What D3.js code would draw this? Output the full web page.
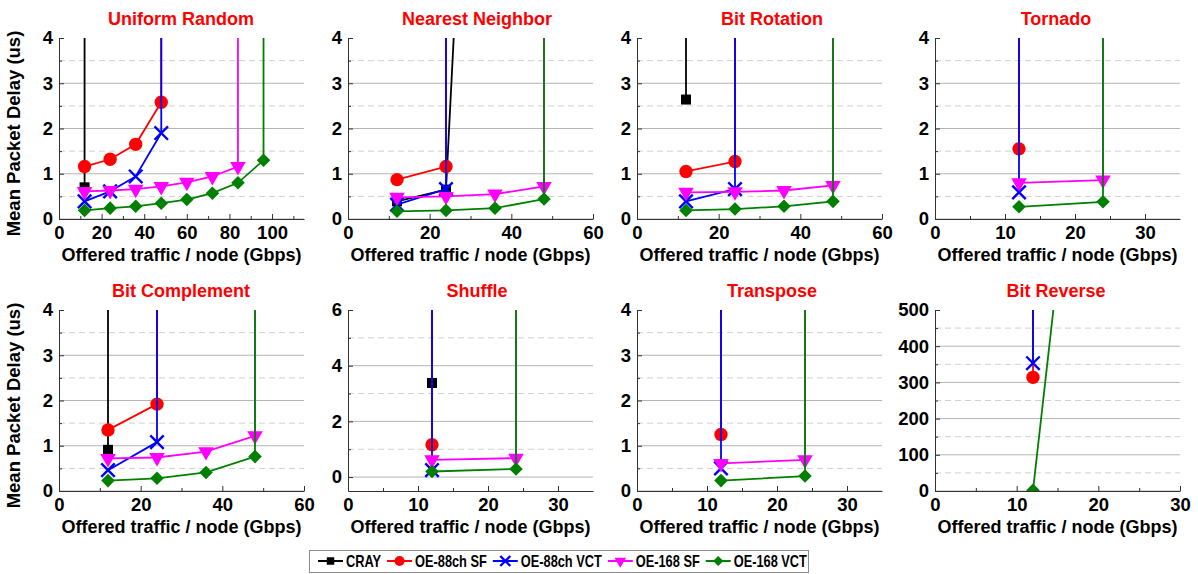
<!DOCTYPE html>
<html>
<head>
<meta charset="utf-8">
<script src="https://cdn.jsdelivr.net/npm/d3@7"></script>
<style>
	body { margin: 0; background: #fff; }
	svg { font-family: "Liberation Sans", Arial, sans-serif; }
</style>
</head>
<body>
<svg id="chart" width="1198" height="574"></svg>
<script>

// series, in drawing order
const seriesNames = ["CRAY", "OE-88ch SF", "OE-88ch VCT", "OE-168 SF", "OE-168 VCT"];
const seriesColors = ["#000000", "#ff0000", "#0000ff", "#ff00ff", "#008000"];

const patternNames = ["Uniform Random", "Nearest Neighbor", "Bit Rotation", "Tornado",
	"Bit Complement", "Shuffle", "Transpose", "Bit Reverse"];

// [offered load Gbps, mean delay us] per series; the last point of a list is the
// saturated run, which shoots off the top of the plot
const uniformRandom = [
	[[12, 0.7], [12, 1000]],
	[[12, 1.16], [24, 1.32], [36, 1.65], [48, 2.58], [48, 1000]],
	[[12, 0.39], [24, 0.61], [36, 0.94], [48, 1.9], [48, 1000]],
	[[12, 0.61], [24, 0.63], [36, 0.66], [48, 0.72], [60, 0.81], [72, 0.94], [84, 1.16], [84, 1000]],
	[[12, 0.19], [24, 0.24], [36, 0.28], [48, 0.35], [60, 0.43], [72, 0.57], [84, 0.8], [96, 1.3], [96, 1000]]
];
const nearestNeighbor = [
	[[12, 0.39], [24, 0.65], [36, 22]],
	[[12, 0.87], [24, 1.16], [24, 1000]],
	[[12, 0.32], [24, 0.66], [24, 1000]],
	[[12, 0.48], [24, 0.5], [36, 0.55], [48, 0.72], [48, 1000]],
	[[12, 0.17], [24, 0.19], [36, 0.24], [48, 0.44], [48, 1000]]
];
const bitRotation = [
	[[12, 2.64], [12, 1000]],
	[[12, 1.05], [24, 1.27], [24, 1000]],
	[[12, 0.39], [24, 0.66], [24, 1000]],
	[[12, 0.59], [24, 0.6], [36, 0.63], [48, 0.74], [48, 1000]],
	[[12, 0.19], [24, 0.22], [36, 0.28], [48, 0.39], [48, 1000]]
];
const tornado = [
	[],
	[[12, 1.55], [12, 1000]],
	[[12, 0.59], [12, 1000]],
	[[12, 0.8], [24, 0.86], [24, 1000]],
	[[12, 0.27], [24, 0.38], [24, 1000]]
];
const bitComplement = [
	[[12, 0.91], [12, 1000]],
	[[12, 1.35], [24, 1.92], [24, 1000]],
	[[12, 0.46], [24, 1.08], [24, 1000]],
	[[12, 0.72], [24, 0.74], [36, 0.87], [48, 1.22], [48, 1000]],
	[[12, 0.23], [24, 0.28], [36, 0.41], [48, 0.76], [48, 1000]]
];
const shuffle = [
	[[12, 3.38], [12, 1000]],
	[[12, 1.16], [12, 1000]],
	[[12, 0.25], [12, 1000]],
	[[12, 0.62], [24, 0.68], [24, 1000]],
	[[12, 0.2], [24, 0.29], [24, 1000]]
];
const transpose = [
	[],
	[[12, 1.25], [12, 1000]],
	[[12, 0.5], [12, 1000]],
	[[12, 0.61], [24, 0.69], [24, 1000]],
	[[12, 0.23], [24, 0.33], [24, 1000]]
];
const bitReverse = [
	[],
	[[12, 314], [12, 100000]],
	[[12, 353], [12, 100000]],
	[],
	[[12, 2], [24, 2400]]
];

// axis ranges per panel
const xMaxes = [115, 60, 60, 35, 60, 35, 35, 30];
const xSteps = [20, 20, 20, 10, 20, 10, 10, 10];
const yDomains = [[0, 4], [0, 4], [0, 4], [0, 4], [0, 4], [-0.5, 6], [0, 4], [0, 500]];
const ySteps = [1, 1, 1, 1, 1, 2, 1, 100];

const patternData = [uniformRandom, nearestNeighbor, bitRotation, tornado,
	bitComplement, shuffle, transpose, bitReverse];

// layout
const colLeft = [59, 348, 637, 935];
const titleCenter = [181, 477, 772, 1056];
const rowTop = [38, 310];
const plotW = 245, plotH = 181;

const svg = d3.select('#chart');

function markerPath(i, scale) {
	const s = scale || 1;
	if (i === 0) return d3.symbol(d3.symbolSquare, 100 * s * s)();
	if (i === 1) return d3.symbol(d3.symbolCircle, 140 * s * s)();
	if (i === 2) return d3.symbol(d3.symbolX, 120 * s * s)();
	if (i === 3) return d3.symbol(d3.symbolTriangle, 105 * s * s)();
	return d3.symbol(d3.symbolSquare, 92 * s * s)();
}
function markerRotate(i) {
	if (i === 3) return " rotate(180)";
	if (i === 4) return " rotate(45)";
	return "";
}
function drawMarker(sel, i, scale) {
	const p = sel.append("path")
		.attr("d", markerPath(i, scale));
	if (i === 2) {
		p.attr("fill", "none").attr("stroke", seriesColors[i]).attr("stroke-width", 2.4);
	} else {
		p.attr("fill", seriesColors[i]);
	}
	return p;
}

patternNames.forEach((name, k) => {
	const col = k % 4, row = Math.floor(k / 4);
	const left = colLeft[col], top = rowTop[row];
	const g = svg.append("g").attr("transform", `translate(${left},${top})`);

	const x = d3.scaleLinear().domain([0, xMaxes[k]]).range([0, plotW]);
	const y = d3.scaleLinear().domain(yDomains[k]).range([plotH, 0]);

	const xs = xSteps[k], ys = ySteps[k];
	const yMin = yDomains[k][0], yMax = yDomains[k][1];
	const xMajor = d3.range(0, xMaxes[k] + 0.001, xs);
	const xMinor = d3.range(xs / 2, xMaxes[k], xs);
	const yMajor = d3.range(Math.max(0, yMin), yMax + 0.001, ys);
	const yMinor = d3.range(Math.max(0, yMin) + ys / 2, yMax, ys);

	// grid
	g.append("g").selectAll("line")
		.data(yMinor)
		.enter().append("line")
		.attr("x1", 0).attr("x2", plotW)
		.attr("y1", d => y(d)).attr("y2", d => y(d))
		.attr("stroke", "#d0d0d0")
		.attr("stroke-dasharray", "6,4");
	g.append("g").selectAll("line")
		.data(yMajor.filter(d => d < yMax))
		.enter().append("line")
		.attr("x1", 0).attr("x2", plotW)
		.attr("y1", d => y(d)).attr("y2", d => y(d))
		.attr("stroke", "#b4b4b4");

	// axes
	const fmt = d => d3.format("d")(d);
	const xAxis = g.append("g")
		.attr("transform", `translate(0,${plotH})`)
		.call(d3.axisBottom(x).tickValues(xMajor).tickFormat(fmt)
			.tickSize(-5).tickSizeOuter(0).tickPadding(7));
	g.append("g")
		.attr("transform", `translate(0,${plotH})`)
		.call(d3.axisBottom(x).tickValues(xMinor).tickSize(-3).tickSizeOuter(0).tickFormat(""))
		.select(".domain").remove();
	const yAxis = g.append("g")
		.call(d3.axisLeft(y).tickValues(yMajor).tickFormat(fmt)
			.tickSize(-5).tickSizeOuter(0).tickPadding(6));
	g.append("g")
		.call(d3.axisLeft(y).tickValues(yMinor).tickSize(-3).tickSizeOuter(0).tickFormat(""))
		.select(".domain").remove();

	g.selectAll(".domain").attr("stroke", "#333");
	g.selectAll(".tick line").attr("stroke", "#333");
	[xAxis, yAxis].forEach(a => a.selectAll("text")
		.attr("font-size", 18.5)
		.attr("font-weight", "bold")
		.attr("font-family", "'Liberation Sans', Arial, sans-serif")
		.attr("fill", "#000"));

	// data
	const clipId = "clip" + k;
	g.append("clipPath").attr("id", clipId)
		.append("rect").attr("x", 0).attr("y", 0).attr("width", plotW).attr("height", plotH);
	const plot = g.append("g").attr("clip-path", `url(#${clipId})`);

	const line = d3.line().x(d => x(d[0])).y(d => y(d[1]));

	patternData[k].forEach((pts, i) => {
		if (!pts.length) return;
		const sg = plot.append("g");
		sg.append("path")
			.datum(pts)
			.attr("d", line)
			.attr("fill", "none")
			.attr("stroke", seriesColors[i])
			.attr("stroke-width", 1.8);
		sg.selectAll(".m")
			.data(pts.filter(d => d[1] <= yMax))
			.enter().append("g")
			.attr("transform", d => `translate(${x(d[0])},${y(d[1])})` + markerRotate(i))
			.each(function () { drawMarker(d3.select(this), i, 1); });
	});

	// title
	svg.append("text")
		.attr("x", titleCenter[col])
		.attr("y", row === 0 ? 25 : 297)
		.attr("text-anchor", "middle")
		.attr("font-size", 18)
		.attr("font-weight", "bold")
		.attr("fill", "#ff0000")
		.text(name);

	// x label
	g.append("text")
		.attr("x", plotW / 2)
		.attr("y", plotH + 42)
		.attr("text-anchor", "middle")
		.attr("font-size", 18)
		.attr("font-weight", "bold")
		.text("Offered traffic / node (Gbps)");

	if (col === 0) {
		g.append("text")
			.attr("transform", `translate(${20 - left},${plotH / 2 + 5}) rotate(-90)`)
			.attr("text-anchor", "middle")
			.attr("font-size", 18.5)
			.attr("font-weight", "bold")
			.text("Mean Packet Delay (us)");
	}
});

// legend
const legend = svg.append("g");
legend.append("rect")
	.attr("x", 309.5).attr("y", 550.5)
	.attr("width", 499).attr("height", 22)
	.attr("fill", "#fff")
	.attr("stroke", "#8c8c8c");

// narrow bold look: squeeze regular bold text horizontally
const squeeze = 0.8;
let cursor = 318;
seriesNames.forEach((name, i) => {
	const item = legend.append("g");
	item.append("line")
		.attr("x1", cursor).attr("x2", cursor + 25)
		.attr("y1", 561).attr("y2", 561)
		.attr("stroke", seriesColors[i])
		.attr("stroke-width", 2);
	const mg = item.append("g")
		.attr("transform", `translate(${cursor + 12.5},561)` + markerRotate(i));
	drawMarker(mg, i, 0.75);
	const t = item.append("text")
		.attr("transform", `translate(${cursor + 28},567) scale(${squeeze},1)`)
		.attr("font-size", 16)
		.attr("font-weight", "bold")
		.text(name);
	cursor += 28 + t.node().getComputedTextLength() * squeeze + 6;
});

</script>
</body>
</html>
